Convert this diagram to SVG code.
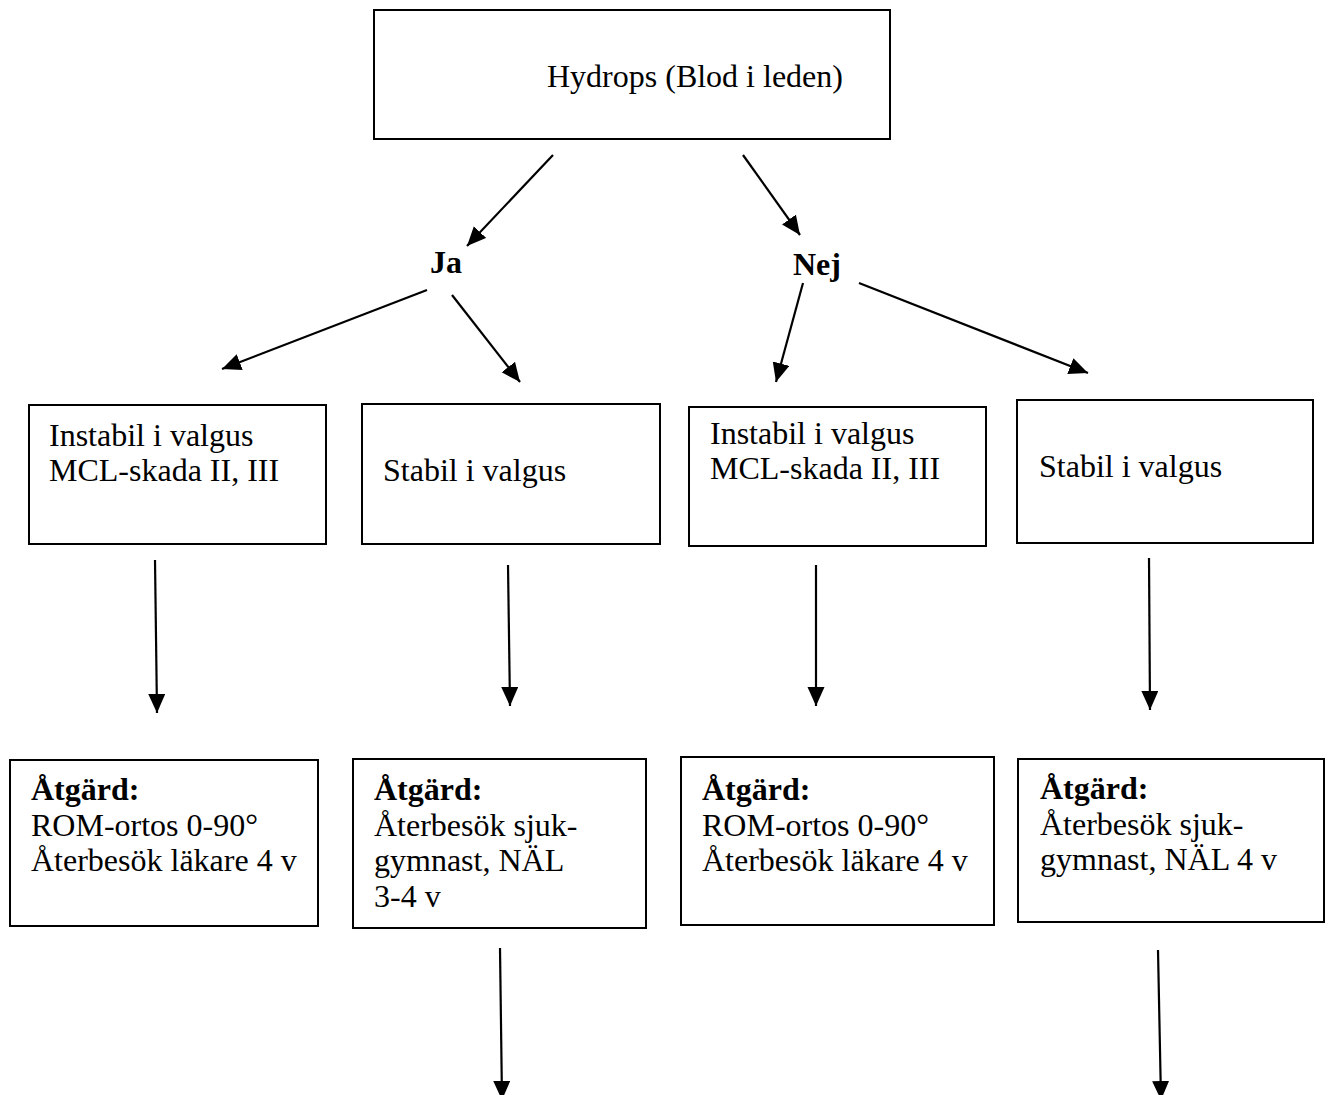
<svg xmlns="http://www.w3.org/2000/svg" width="1329" height="1095" viewBox="0 0 1329 1095">
<style>
.box{fill:#fff;stroke:#000;stroke-width:2}
.t{font-family:"Liberation Serif","Times New Roman",serif;font-size:32px;fill:#000}
.b{font-weight:bold}
.c{fill:none;stroke:#000;stroke-width:2.2}
</style>
<defs>
<marker id="ah" markerUnits="userSpaceOnUse" markerWidth="20" markerHeight="18" refX="19" refY="8.5" orient="auto">
<path d="M0,0 L19,8.5 L0,17 Z" fill="#000"/>
</marker>
</defs>
<rect width="1329" height="1095" fill="#fff"/>
<g id="connectors">
<line class="c" x1="553" y1="155" x2="467" y2="246" marker-end="url(#ah)"/>
<line class="c" x1="743" y1="155" x2="800" y2="235" marker-end="url(#ah)"/>
<line class="c" x1="427" y1="290" x2="222" y2="369" marker-end="url(#ah)"/>
<line class="c" x1="452" y1="295" x2="520" y2="382" marker-end="url(#ah)"/>
<line class="c" x1="803" y1="283" x2="776" y2="382" marker-end="url(#ah)"/>
<line class="c" x1="859" y1="283" x2="1088" y2="373" marker-end="url(#ah)"/>
<line class="c" x1="155" y1="560" x2="157" y2="713" marker-end="url(#ah)"/>
<line class="c" x1="508" y1="565" x2="510" y2="706" marker-end="url(#ah)"/>
<line class="c" x1="816" y1="565" x2="816" y2="706" marker-end="url(#ah)"/>
<line class="c" x1="1149" y1="558" x2="1150" y2="710" marker-end="url(#ah)"/>
<line class="c" x1="500" y1="948" x2="502" y2="1100" marker-end="url(#ah)"/>
<line class="c" x1="1158" y1="950" x2="1161" y2="1100" marker-end="url(#ah)"/>
</g>
<g id="top">
<rect class="box" x="374" y="10" width="516" height="129"/>
<text class="t" x="547" y="87">Hydrops (Blod i leden)</text>
</g>
<g id="ja"><text class="t b" x="430" y="273">Ja</text></g>
<g id="nej"><text class="t b" x="793" y="275">Nej</text></g>
<g id="a1">
<rect class="box" x="29" y="405" width="297" height="139"/>
<text class="t" x="49" y="446">Instabil i valgus</text>
<text class="t" x="49" y="481">MCL-skada II, III</text>
</g>
<g id="a2">
<rect class="box" x="362" y="404" width="298" height="140"/>
<text class="t" x="383" y="481">Stabil i valgus</text>
</g>
<g id="b1">
<rect class="box" x="689" y="407" width="297" height="139"/>
<text class="t" x="710" y="444">Instabil i valgus</text>
<text class="t" x="710" y="479">MCL-skada II, III</text>
</g>
<g id="b2">
<rect class="box" x="1017" y="400" width="296" height="143"/>
<text class="t" x="1039" y="477">Stabil i valgus</text>
</g>
<g id="c1">
<rect class="box" x="10" y="760" width="308" height="166"/>
<text class="t b" x="31" y="800">Åtgärd:</text>
<text class="t" x="31" y="836">ROM-ortos 0-90°</text>
<text class="t" x="31" y="871">Återbesök läkare 4 v</text>
</g>
<g id="c2">
<rect class="box" x="353" y="759" width="293" height="169"/>
<text class="t b" x="374" y="800">Åtgärd:</text>
<text class="t" x="374" y="836">Återbesök sjuk-</text>
<text class="t" x="374" y="871">gymnast, NÄL</text>
<text class="t" x="374" y="907">3-4 v</text>
</g>
<g id="c3">
<rect class="box" x="681" y="757" width="313" height="168"/>
<text class="t b" x="702" y="800">Åtgärd:</text>
<text class="t" x="702" y="836">ROM-ortos 0-90°</text>
<text class="t" x="702" y="871">Återbesök läkare 4 v</text>
</g>
<g id="c4">
<rect class="box" x="1018" y="759" width="306" height="163"/>
<text class="t b" x="1040" y="799">Åtgärd:</text>
<text class="t" x="1040" y="835">Återbesök sjuk-</text>
<text class="t" x="1040" y="870">gymnast, NÄL 4 v</text>
</g>
</svg>
